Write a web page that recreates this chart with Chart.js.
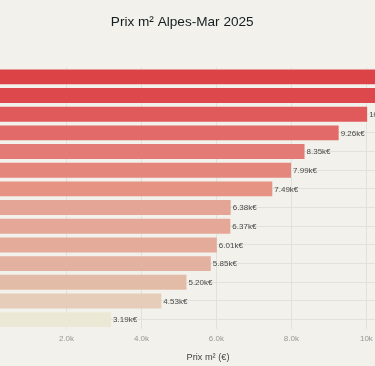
<!DOCTYPE html>
<html>
<head>
<meta charset="utf-8">
<script src="https://cdn.jsdelivr.net/npm/chart.js@4.4.1/dist/chart.umd.min.js"></script>
<style>
	html, body {margin: 0; padding: 0; background: #f2f1ec;}
	#wrap {position: relative; width: 375px; height: 366px; overflow: hidden; background: #f2f1ec;}
	#box {position: absolute; left: -60px; top: 0; width: 495px; height: 366px;}
</style>
</head>
<body>
<div id="wrap"><div id="box"><canvas id="chart_prix"></canvas></div></div>
<script>
'use strict';

// communes (hors cadre à gauche dans l'image d'origine)
const communes = [
	"Beaulieu-sur-Mer", "Villefranche-sur-Mer", "Cap-d'Ail", "Èze",
	"Roquebrune-Cap-Martin", "Mougins", "Cannes", "Antibes",
	"Saint-Paul-de-Vence", "Nice", "Menton", "Cagnes-sur-Mer",
	"Vallauris", "Grasse"
];
const prixM2 = [10500, 10320, 10020, 9260, 8350, 7990, 7490, 6380, 6370, 6010, 5850, 5200, 4530, 3190];
const xTicks = [0, 2000, 4000, 6000, 8000, 10000];

const barColors = [
	'#dc4347', '#dd484c', '#e05a5b', '#e26a68', '#e47a75', '#e5867c', '#e69383',
	'#e4a496', '#e4a798', '#e4ab9b', '#e3b1a0', '#e3bca8', '#e5cdb9', '#ebe8d5'
];

const FONT = "'Liberation Sans', Arial, sans-serif";

const valueLabels = {
	id: 'valueLabels',
	afterDatasetsDraw(chart) {
		let ctx = chart.ctx,
			meta = chart.getDatasetMeta(0);
		ctx.save();
		ctx.font = '8px ' + FONT;
		ctx.fillStyle = '#474747';
		ctx.textBaseline = 'middle';
		ctx.textAlign = 'left';
		meta.data.forEach((bar, i) => {
			ctx.fillText((prixM2[i] / 1000).toFixed(2) + 'k€', bar.x + 2, bar.y + 0.5);
		});
		ctx.restore();
	}
};

let ctx = document.getElementById('chart_prix').getContext('2d');
window.ChartPrix = new Chart(ctx, {
	type: 'bar',
	data: {
		labels: communes,
		datasets: [{
			label: 'Prix m²',
			data: prixM2,
			backgroundColor: barColors,
			borderWidth: 0,
			categoryPercentage: 1,
			barPercentage: 0.8,
		}]
	},
	options: {
		indexAxis: 'y',
		responsive: true,
		maintainAspectRatio: false,
		animation: false,
		layout: {padding: {left: 0, right: 10.5, top: 0, bottom: 0}},
		plugins: {
			legend: {display: false},
			tooltip: {enabled: false},
			title: {
				display: true,
				text: 'Prix m² Alpes-Mar 2025',
				color: '#141d20',
				font: {family: FONT, size: 13.6, weight: 'normal'},
				padding: {top: 14.4, bottom: 36.8},
			},
		},
		scales: {
			x: {
				min: 0,
				max: 11550,
				afterBuildTicks: scale => {
					scale.ticks = xTicks.map(v => ({value: v}));
				},
				grid: {color: '#e2e2dc', drawTicks: false},
				border: {display: false},
				ticks: {
					color: '#979794',
					font: {family: FONT, size: 8},
					padding: 5.2,
					callback: v => (v / 1000).toPrecision(2) + 'k',
				},
				title: {
					display: true,
					text: 'Prix m² (€)',
					color: '#444',
					font: {family: FONT, size: 9.2},
					padding: {top: 2.5, bottom: 3.5},
				},
			},
			y: {
				afterFit: scale => {
					scale.width = 51.5;
				},
				grid: {color: '#e2e2dc', offset: false, drawTicks: false},
				border: {display: false},
				ticks: {
					color: '#555',
					font: {family: FONT, size: 9},
					padding: 6,
				},
			},
		},
	},
	plugins: [valueLabels],
});
</script>
</body>
</html>
